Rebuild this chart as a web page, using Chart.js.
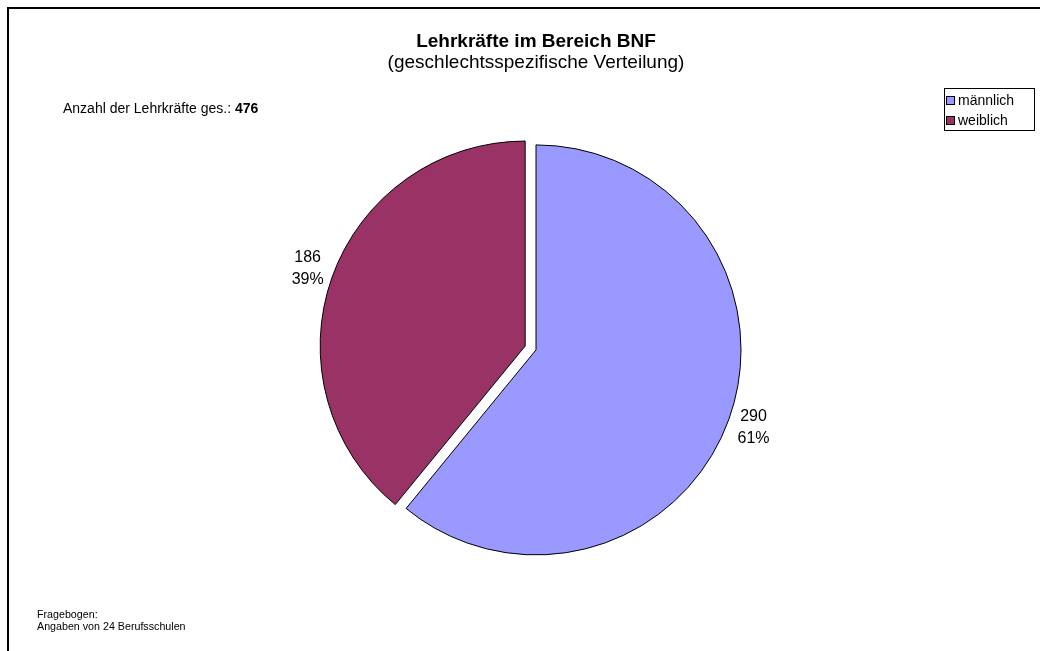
<!DOCTYPE html>
<html><head><meta charset="utf-8">
<script src="https://cdn.jsdelivr.net/npm/chart.js@4.4.1/dist/chart.umd.min.js"></script>
<style>html,body{margin:0;padding:0;background:#fff}#wrap{width:1040px;height:651px;position:relative}</style>
</head><body><div id="wrap"><canvas id="c"></canvas></div>
<script>
const categories = ['männlich', 'weiblich'];
const teacherCounts = [290, 186];
const sliceColors = ['#9999FF', '#993366'];
const sliceExplode = [0, 11.5];
const titleText = 'Lehrkräfte im Bereich BNF';
const subtitleText = '(geschlechtsspezifische Verteilung)';
const totalLabel = 'Anzahl der Lehrkräfte ges.: ';
const footerLines = ['Fragebogen:', 'Angaben von 24 Berufsschulen'];
const FONT = '"Liberation Sans", Arial, Helvetica, sans-serif';

const totalCount = teacherCounts.reduce((a, b) => a + b, 0);

// Arc element that moves an exploded slice straight out along its bisector
class ExplodedArc extends Chart.ArcElement {
  static id = 'explodedArc';
  static defaults = { explode: 0 };
  draw(ctx) {
    const e = (this.options && this.options.explode) || 0;
    const mid = (this.startAngle + this.endAngle) / 2;
    ctx.save();
    ctx.translate(Math.cos(mid) * e, Math.sin(mid) * e);
    super.draw(ctx);
    ctx.restore();
  }
}
class ExplodedPieController extends Chart.PieController {
  static id = 'explodedPie';
  static defaults = { dataElementType: 'explodedArc' };
}
Chart.register(ExplodedArc, ExplodedPieController);

const framePlugin = {
  id: 'frame',
  beforeDraw(chart) {
    const ctx = chart.ctx;
    ctx.save();
    ctx.fillStyle = '#ffffff';
    ctx.fillRect(0, 0, chart.width, chart.height);
    ctx.strokeStyle = '#000000';
    ctx.lineWidth = 2;
    ctx.strokeRect(8, 8, chart.width + 10, chart.height + 10);
    ctx.restore();
  }
};

const sliceLabelPlugin = {
  id: 'sliceLabels',
  afterDatasetsDraw(chart) {
    const ctx = chart.ctx;
    const meta = chart.getDatasetMeta(0);
    ctx.save();
    ctx.font = '16px ' + FONT;
    ctx.fillStyle = '#000000';
    ctx.textAlign = 'center';
    ctx.textBaseline = 'middle';
    meta.data.forEach((arc, i) => {
      const p = arc.getProps(['x', 'y', 'startAngle', 'endAngle', 'outerRadius'], true);
      const mid = (p.startAngle + p.endAngle) / 2;
      const e = (arc.options && arc.options.explode) || 0;
      const r = p.outerRadius + e + 26;
      const cx = p.x + Math.cos(mid) * r;
      const cy = p.y + Math.sin(mid) * r;
      const val = chart.data.datasets[0].data[i];
      const pct = Math.round(val / totalCount * 100);
      ctx.fillText(String(val), cx, cy - 11);
      ctx.fillText(pct + '%', cx, cy + 11);
    });
    ctx.restore();
  }
};

const annotationPlugin = {
  id: 'annotations',
  afterDraw(chart) {
    const ctx = chart.ctx;
    ctx.save();
    ctx.fillStyle = '#000000';
    ctx.textBaseline = 'alphabetic';
    ctx.textAlign = 'left';
    ctx.font = '14px ' + FONT;
    ctx.fillText(totalLabel, 63, 113);
    const w = ctx.measureText(totalLabel).width;
    ctx.font = 'bold 14px ' + FONT;
    ctx.fillText(String(totalCount), 63 + w, 113);
    ctx.font = '10.7px ' + FONT;
    ctx.fillText(footerLines[0], 37, 618);
    ctx.fillText(footerLines[1], 37, 630);
    const lx = 944, ly = 88, lw = 90, lh = 42;
    ctx.strokeStyle = '#000000';
    ctx.lineWidth = 1;
    ctx.strokeRect(lx + 0.5, ly + 0.5, lw, lh);
    ctx.font = '14px ' + FONT;
    ctx.textBaseline = 'middle';
    categories.forEach((name, i) => {
      const yy = ly + 12 + i * 20;
      ctx.fillStyle = sliceColors[i];
      ctx.fillRect(lx + 2, yy - 4, 9, 9);
      ctx.strokeStyle = '#000000';
      ctx.strokeRect(lx + 2.5, yy - 3.5, 8, 8);
      ctx.fillStyle = '#000000';
      ctx.fillText(name, lx + 14, yy + 1);
    });
    ctx.restore();
  }
};

new Chart(document.getElementById('c'), {
  type: 'explodedPie',
  data: {
    labels: categories,
    datasets: [{
      data: teacherCounts,
      backgroundColor: sliceColors,
      borderColor: '#000000',
      borderWidth: 1,
      explode: sliceExplode,
      offset: 0,
      hoverOffset: 0
    }]
  },
  options: {
    responsive: true,
    maintainAspectRatio: false,
    animation: false,
    radius: 205,
    rotation: 0,
    layout: { padding: { left: 32, right: 0, top: 0, bottom: 24 } },
    plugins: {
      legend: { display: false },
      tooltip: { enabled: false },
      title: {
        display: true,
        text: titleText,
        color: '#000000',
        font: { family: FONT, size: 19, weight: 'bold', lineHeight: 1.1 },
        padding: { top: 31, bottom: 0 }
      },
      subtitle: {
        display: true,
        text: subtitleText,
        color: '#000000',
        font: { family: FONT, size: 19, weight: 'normal', lineHeight: 1.1 },
        padding: { top: 0, bottom: 0 }
      }
    }
  },
  plugins: [framePlugin, sliceLabelPlugin, annotationPlugin]
});
</script>
</body></html>
